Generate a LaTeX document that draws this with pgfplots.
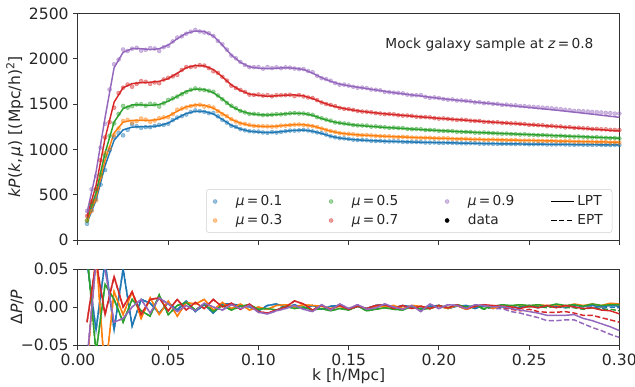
\documentclass[border=0pt]{standalone}
\usepackage{pgfplots}
\pgfplotsset{compat=1.18}
\usepackage{pgfplotstable}
\usepackage{fontspec}
\setmainfont{DejaVu Sans}
\definecolor{c0}{HTML}{1F77B4}
\definecolor{c1}{HTML}{FF7F0E}
\definecolor{c2}{HTML}{2CA02C}
\definecolor{c3}{HTML}{D62728}
\definecolor{c4}{HTML}{9467BD}
\definecolor{txt}{HTML}{262626}

% k, LPT model (mu=0.1..0.9), LPT residuals r, EPT residuals e
\pgfplotstableread{
k m1 m3 m5 m7 m9 r1 r3 r5 r7 r9 e1 e3 e5 e7 e9
0.005 190 200 230 260 300 0.060 -0.080 0.070 -0.020 -0.070 0.060 -0.080 0.070 -0.020 -0.070
0.010 440 470 520 600 750 -0.030 0.070 -0.060 0.060 0.060 -0.030 0.070 -0.060 0.060 0.060
0.015 820 880 960 1120 1350 0.060 -0.090 0.030 -0.010 0.050 0.060 -0.090 0.030 -0.010 0.050
0.020 1100 1180 1300 1520 1900 -0.030 0.020 0.010 0.040 -0.020 -0.030 0.020 0.010 0.040 -0.020
0.025 1215 1300 1450 1680 2070 0.050 -0.010 -0.020 0.000 -0.015 0.050 -0.010 -0.020 0.000 -0.015
0.030 1245 1320 1490 1725 2110 -0.025 0.020 0.010 0.020 0.000 -0.025 0.020 0.010 0.020 0.000
0.035 1250 1320 1490 1735 2110 0.010 -0.015 -0.005 -0.010 0.010 0.010 -0.015 -0.005 -0.010 0.010
0.040 1250 1320 1485 1740 2100 0.005 0.012 -0.012 0.010 -0.008 0.005 0.012 -0.012 0.010 -0.008
0.045 1260 1330 1495 1750 2110 -0.008 -0.010 0.016 0.012 0.012 -0.008 -0.010 0.016 0.012 0.012
0.050 1290 1365 1530 1780 2150 0.006 0.008 -0.010 -0.005 0.004 0.006 0.008 -0.010 -0.005 0.004
0.055 1345 1420 1585 1840 2220 -0.004 -0.012 0.002 0.010 -0.006 -0.004 -0.012 0.002 0.010 -0.006
0.060 1395 1470 1640 1900 2280 0.008 0.006 0.006 -0.004 0.002 0.008 0.006 0.006 -0.004 0.002
0.065 1420 1490 1665 1925 2305 -0.006 0.004 -0.004 0.006 -0.005 -0.006 0.004 -0.004 0.006 -0.005
0.070 1418 1487 1660 1920 2300 0.003 0.010 0.004 -0.002 0.005 0.003 0.010 0.004 -0.002 0.005
0.075 1390 1455 1625 1880 2250 -0.008 -0.004 -0.006 0.010 0.000 -0.008 -0.004 -0.006 0.010 0.000
0.080 1330 1395 1555 1800 2150 0.004 0.006 0.002 0.000 -0.004 0.004 0.006 0.002 0.000 -0.004
0.085 1265 1330 1475 1710 2040 0.004 -0.002 -0.004 0.005 0.003 0.004 -0.002 -0.004 0.005 0.003
0.090 1225 1290 1425 1650 1960 0.002 0.004 0.001 -0.003 -0.002 0.002 0.004 0.001 -0.003 -0.002
0.095 1200 1265 1395 1610 1910 0.000 -0.004 0.003 0.004 0.002 0.000 -0.004 0.003 0.004 0.002
0.100 1190 1255 1382 1595 1895 -0.005 0.000 -0.003 -0.006 -0.007 -0.005 0.000 -0.003 -0.006 -0.007
0.105 1185 1250 1378 1585 1890 0.002 -0.003 -0.002 -0.008 -0.009 0.002 -0.003 -0.002 -0.008 -0.009
0.110 1190 1255 1383 1590 1895 0.004 0.002 -0.004 -0.004 -0.005 0.004 0.002 -0.004 -0.004 -0.005
0.115 1200 1265 1392 1598 1900 0.000 0.003 0.001 0.000 -0.002 0.000 0.003 0.001 0.000 -0.002
0.120 1210 1272 1398 1600 1895 0.003 0.000 -0.002 0.008 0.002 0.003 0.000 -0.002 0.008 0.002
0.125 1212 1272 1395 1590 1880 -0.002 0.003 0.000 0.004 -0.003 -0.002 0.003 0.000 0.004 -0.003
0.130 1200 1258 1375 1560 1840 0.002 0.002 -0.004 -0.004 -0.006 0.002 0.002 -0.004 -0.004 -0.006
0.135 1175 1230 1340 1520 1790 -0.003 0.001 -0.002 0.002 0.003 -0.003 0.001 -0.002 0.002 0.003
0.140 1145 1200 1310 1485 1750 0.001 -0.002 -0.005 -0.003 -0.004 0.001 -0.002 -0.005 -0.003 -0.004
0.145 1125 1180 1290 1460 1720 0.002 0.001 -0.002 0.002 0.004 0.002 0.001 -0.002 0.002 0.004
0.150 1112 1168 1275 1440 1700 -0.003 -0.002 -0.004 -0.003 -0.002 -0.003 -0.002 -0.004 -0.003 -0.002
0.155 1104 1160 1265 1425 1685 0.001 0.002 0.001 0.001 0.003 0.001 0.002 0.001 0.001 0.003
0.160 1098 1154 1256 1412 1670 -0.002 -0.003 -0.005 -0.002 -0.003 -0.002 -0.003 -0.005 -0.002 -0.003
0.165 1094 1149 1249 1402 1655 0.002 0.001 -0.003 0.002 -0.001 0.002 0.001 -0.003 0.002 -0.001
0.170 1090 1144 1242 1392 1640 0.003 0.000 -0.001 0.003 0.004 0.003 0.000 -0.001 0.003 0.004
0.175 1087 1140 1236 1383 1625 -0.001 0.002 -0.003 -0.002 0.000 -0.001 0.002 -0.003 -0.002 0.000
0.180 1084 1136 1230 1375 1612 0.002 -0.002 -0.004 0.002 -0.003 0.002 -0.002 -0.004 0.002 -0.003
0.185 1081 1132 1224 1366 1600 0.000 0.002 0.001 -0.002 0.002 0.000 0.002 0.001 -0.002 0.002
0.190 1078 1128 1218 1358 1588 -0.002 0.001 -0.003 0.001 -0.006 -0.002 0.001 -0.003 0.001 -0.006
0.195 1076 1125 1212 1350 1575 0.001 -0.002 -0.002 -0.002 0.004 0.001 -0.002 -0.002 -0.002 0.004
0.200 1074 1122 1207 1342 1563 0.002 0.001 0.002 0.002 -0.002 0.002 0.001 0.002 0.002 -0.002
0.205 1072 1119 1202 1335 1552 -0.002 -0.002 -0.001 -0.001 0.003 -0.002 -0.002 -0.001 -0.001 0.003
0.210 1070 1116 1197 1328 1542 0.001 0.002 0.003 0.003 0.002 0.001 0.002 0.003 0.002 0.002
0.215 1068 1113 1192 1321 1532 0.002 -0.003 0.000 -0.002 -0.002 0.002 -0.003 0.000 -0.003 -0.003
0.220 1066 1110 1187 1314 1522 -0.002 0.001 0.002 0.001 0.003 -0.002 0.001 0.001 0.000 0.002
0.225 1064 1108 1183 1307 1512 0.002 0.003 -0.002 0.003 0.002 0.002 0.003 -0.003 0.002 0.001
0.230 1062 1106 1179 1300 1502 0.001 -0.002 0.001 0.002 0.000 0.001 -0.002 0.000 0.000 -0.002
0.235 1061 1104 1175 1293 1492 0.000 0.002 0.003 0.001 0.001 0.000 0.002 0.002 -0.001 -0.002
0.240 1060 1102 1171 1286 1482 0.001 0.001 0.002 0.000 -0.002 0.001 0.001 0.001 -0.003 -0.006
0.245 1059 1100 1167 1279 1472 -0.001 0.003 0.003 -0.002 -0.004 -0.001 0.003 0.001 -0.005 -0.008
0.250 1058 1098 1163 1272 1462 0.002 0.001 0.002 0.001 -0.006 0.002 0.001 0.000 -0.003 -0.011
0.255 1057 1096 1159 1265 1452 -0.001 0.003 0.003 -0.001 -0.008 -0.001 0.002 0.001 -0.006 -0.014
0.260 1056 1094 1155 1258 1442 0.002 0.002 0.001 0.002 -0.011 0.001 0.001 -0.001 -0.007 -0.018
0.265 1055 1092 1151 1251 1432 0.001 0.003 0.004 -0.001 -0.011 0.000 0.002 0.001 -0.007 -0.018
0.270 1054 1090 1147 1244 1421 0.000 0.001 0.002 0.002 -0.011 -0.001 0.000 -0.001 -0.006 -0.017
0.275 1053 1088 1143 1237 1410 0.002 0.004 0.003 0.000 -0.010 0.001 0.003 -0.001 -0.008 -0.017
0.280 1052 1086 1139 1230 1399 0.001 0.002 0.001 -0.002 -0.015 0.000 0.001 -0.003 -0.011 -0.022
0.285 1051 1084 1135 1223 1388 0.002 0.004 0.004 -0.001 -0.018 0.000 0.003 -0.001 -0.011 -0.027
0.290 1050 1082 1131 1216 1376 0.000 0.002 0.002 -0.004 -0.022 -0.002 0.000 -0.003 -0.014 -0.031
0.295 1049 1080 1127 1209 1365 0.002 0.005 0.003 -0.005 -0.026 0.000 0.003 -0.003 -0.017 -0.036
0.300 1048 1078 1123 1202 1353 0.001 0.004 0.003 -0.009 -0.031 -0.001 0.002 -0.005 -0.020 -0.040
}\tab

% additional measured data points between the model grid points
\pgfplotstableread{
k d1 d3 d5 d7 d9
0.0075 330 320 390 420 560
0.0125 610 700 720 880 1020
0.0175 990 1010 1150 1300 1660
0.0225 1180 1230 1390 1620 1990
0.0275 1215 1325 1460 1715 2085
0.0325 1255 1312 1495 1722 2120
0.0375 1245 1328 1482 1745 2098
0.0425 1258 1318 1496 1738 2112
0.0475 1270 1352 1508 1770 2126
0.0525 1322 1388 1562 1805 2190
0.0575 1366 1450 1608 1875 2246
0.0625 1412 1477 1657 1908 2298
0.0675 1422 1492 1660 1928 2300
0.0725 1400 1474 1646 1896 2280
0.0775 1364 1421 1594 1844 2196
0.0825 1295 1366 1512 1758 2100
0.0875 1248 1307 1453 1676 2004
0.0925 1210 1281 1407 1633 1930
0.0975 1197 1258 1391 1600 1906
0.1025 1186 1255 1378 1593 1890
0.1075 1190 1251 1383 1585 1896
0.1125 1193 1262 1386 1597 1895
0.1175 1207 1267 1397 1602 1901
0.1225 1209 1274 1395 1598 1885
0.1275 1208 1263 1388 1572 1864
0.1325 1186 1246 1355 1543 1811
0.1375 1163 1213 1328 1500 1774
0.1425 1133 1192 1297 1476 1731
0.1475 1121 1172 1285 1447 1714
0.1525 1106 1166 1268 1435 1690
0.1575 1103 1155 1263 1417 1681
0.1625 1094 1153 1251 1409 1660
0.1675 1093 1145 1248 1395 1651
0.1725 1087 1143 1237 1390 1630
0.1775 1088 1136 1235 1377 1622
0.1825 1081 1135 1225 1373 1604
0.1875 1081 1128 1223 1360 1597
0.1925 1075 1128 1213 1356 1579
0.1975 1076 1122 1211 1344 1572
0.2025 1071 1122 1203 1341 1555
0.2075 1072 1116 1201 1330 1550
0.2125 1067 1116 1193 1327 1540
0.2175 1068 1110 1191 1316 1530
0.2225 1063 1110 1183 1313 1520
0.2275 1064 1105 1182 1302 1511
0.2325 1060 1106 1175 1299 1502
0.2375 1062 1101 1174 1292 1493
0.2425 1058 1102 1167 1286 1485
0.2475 1060 1097 1166 1279 1476
0.2525 1056 1098 1159 1272 1468
0.2575 1058 1093 1158 1266 1460
0.2625 1054 1094 1151 1260 1452
0.2675 1056 1089 1150 1252 1443
0.2725 1052 1090 1143 1245 1432
0.2775 1054 1085 1142 1238 1424
0.2825 1050 1086 1135 1231 1417
0.2875 1052 1081 1134 1226 1410
0.2925 1048 1082 1127 1220 1402
0.2975 1050 1077 1126 1214 1394
}\mid

\newcommand{\lblfont}{\fontsize{11.7}{14}\selectfont}
\newcommand{\legfont}{\fontsize{10.3}{12.4}\selectfont}

\begin{document}
\begin{tikzpicture}
\pgfplotsset{
  every axis/.append style={
    scale only axis, width=406pt, xmin=0, xmax=0.3,
    tick align=outside, tick pos=left, major tick length=3.5pt,
    axis line style={black!80, line width=0.75pt},
    every tick/.style={black!80, line width=0.75pt},
    tick label style={font=\lblfont, text=txt},
    label style={font=\lblfont, text=txt},
    /pgf/number format/assume math mode=true,
    xtick={0,0.05,0.1,0.15,0.2,0.25,0.3},
    scaled ticks=false,
    clip=true,
  },
  dat/.style={only marks, mark=*, mark size=1.5pt, mark options={draw opacity=0.45, fill opacity=0.45}, #1},
  lpt/.style={#1, line width=1.1pt},
  ept/.style={#1, line width=1.1pt, dash pattern=on 4pt off 1.8pt},
}
\begin{axis}[
  name=top, height=170pt,
  ymin=0, ymax=2500, ytick={0,500,1000,1500,2000,2500},
  yticklabel style={/pgf/number format/1000 sep={}},
  xticklabels={},
  ylabel={\textit{kP}(\textit{k},\,\textit{μ}) [(Mpc/h)\textsuperscript{2}]},
  ylabel style={at={(axis description cs:-0.092,0.5)}, anchor=south},
  legend columns=4,
  legend cell align=left,
  legend style={at={(0.987,0.031)}, anchor=south east, font=\legfont, text=txt,
    draw=black!18, rounded corners=2pt, fill=white, inner xsep=5pt, inner ysep=2.5pt,
    /tikz/column 1/.style={column sep=12pt},
    /tikz/column 2/.style={column sep=33pt},
    /tikz/column 3/.style={column sep=12pt},
    /tikz/column 4/.style={column sep=33pt},
    /tikz/column 5/.style={column sep=12pt},
    /tikz/column 6/.style={column sep=25pt},
    /tikz/column 7/.style={column sep=0pt},
    /tikz/column 8/.style={column sep=0pt},
    row sep=1pt},
]
\addplot[dat=c0, forget plot] table[x=k, y expr=\thisrow{m1}*(1-\thisrow{r1})] {\tab};
\addplot[dat=c1, forget plot] table[x=k, y expr=\thisrow{m3}*(1-\thisrow{r3})] {\tab};
\addplot[dat=c2, forget plot] table[x=k, y expr=\thisrow{m5}*(1-\thisrow{r5})] {\tab};
\addplot[dat=c3, forget plot] table[x=k, y expr=\thisrow{m7}*(1-\thisrow{r7})] {\tab};
\addplot[dat=c4, forget plot] table[x=k, y expr=\thisrow{m9}*(1-\thisrow{r9})] {\tab};
\addplot[dat=c0, forget plot] table[x=k, y=d1] {\mid};
\addplot[dat=c1, forget plot] table[x=k, y=d3] {\mid};
\addplot[dat=c2, forget plot] table[x=k, y=d5] {\mid};
\addplot[dat=c3, forget plot] table[x=k, y=d7] {\mid};
\addplot[dat=c4, forget plot] table[x=k, y=d9] {\mid};
\addplot[lpt=c0, forget plot] table[x=k, y=m1] {\tab};
\addplot[lpt=c1, forget plot] table[x=k, y=m3] {\tab};
\addplot[lpt=c2, forget plot] table[x=k, y=m5] {\tab};
\addplot[lpt=c3, forget plot] table[x=k, y=m7] {\tab};
\addplot[lpt=c4, forget plot] table[x=k, y=m9] {\tab};
\addlegendimage{dat=c0}\addlegendentry{\textit{μ}\,=\,0.1}
\addlegendimage{dat=c2}\addlegendentry{\textit{μ}\,=\,0.5}
\addlegendimage{dat=c4}\addlegendentry{\textit{μ}\,=\,0.9}
\addlegendimage{lpt=black}\addlegendentry{LPT}
\addlegendimage{dat=c1}\addlegendentry{\textit{μ}\,=\,0.3}
\addlegendimage{dat=c3}\addlegendentry{\textit{μ}\,=\,0.7}
\addlegendimage{only marks, mark=*, mark size=1.5pt, black}\addlegendentry{data}
\addlegendimage{ept=black}\addlegendentry{EPT}
\node[font=\legfont, text=txt] at (rel axis cs:0.76,0.863) {Mock galaxy sample at \textit{z}\,=\,0.8};
\end{axis}
\begin{axis}[
  at={(0pt,-21.75pt)}, anchor=north west, height=57pt,
  ymin=-0.05, ymax=0.05, ytick={-0.05,0,0.05},
  yticklabels={−0.05,0.00,0.05},
  xticklabels={0.00,0.05,0.10,0.15,0.20,0.25,0.30},
  xlabel={k [h/Mpc]},
  xlabel style={yshift=5pt},
  ylabel={Δ\textit{P}/\textit{P}},
  ylabel style={at={(axis description cs:-0.092,0.5)}, anchor=south},
]
\addplot[ept=c0] table[x=k, y=e1] {\tab};
\addplot[ept=c1] table[x=k, y=e3] {\tab};
\addplot[ept=c2] table[x=k, y=e5] {\tab};
\addplot[ept=c3] table[x=k, y=e7] {\tab};
\addplot[ept=c4] table[x=k, y=e9] {\tab};
\addplot[lpt=c0] table[x=k, y=r1] {\tab};
\addplot[lpt=c1] table[x=k, y=r3] {\tab};
\addplot[lpt=c2] table[x=k, y=r5] {\tab};
\addplot[lpt=c3] table[x=k, y=r7] {\tab};
\addplot[lpt=c4] table[x=k, y=r9] {\tab};
\end{axis}
\pgfresetboundingbox
\path[use as bounding box] (-58.5pt,-109.5pt) rectangle (417.75pt,180pt);
\end{tikzpicture}
\end{document}
